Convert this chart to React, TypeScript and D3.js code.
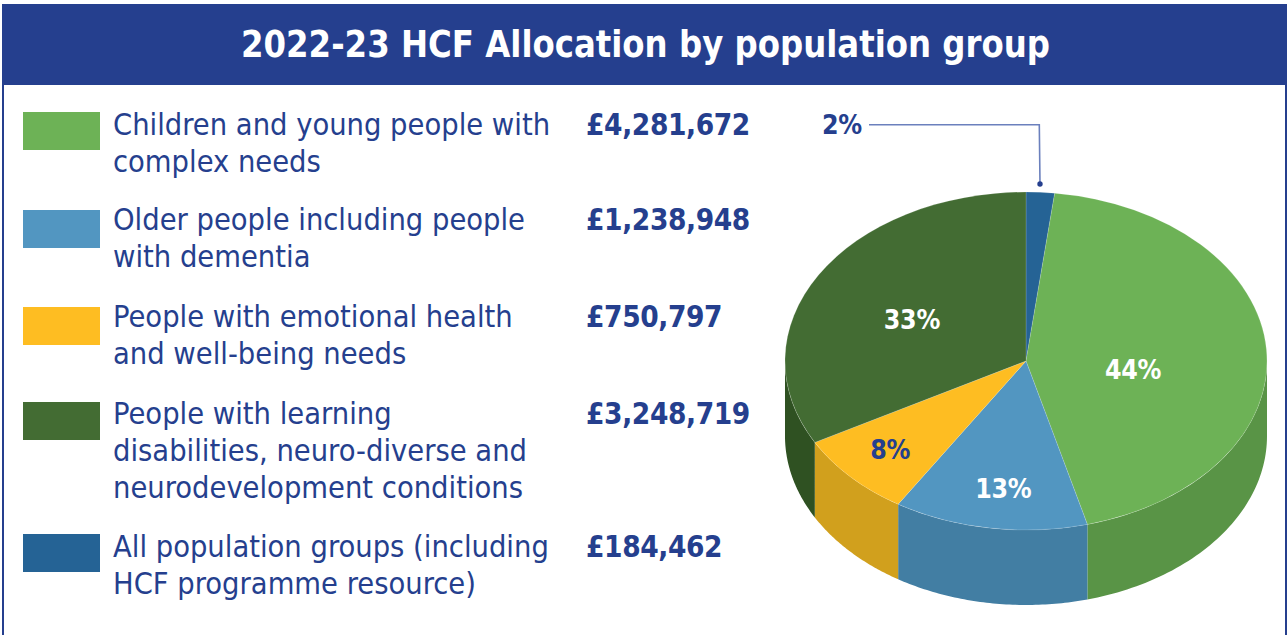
import React from "react";
import * as d3 from "d3";

const title = "2022-23 HCF Allocation by population group";
// Pie order, clockwise from 12 o'clock; shares (%)
const pieKeys = ["all", "children", "older", "emotional", "learning"];
const pieShares = [1.9, 44, 13, 8.1, 33];
const pieColors = ["#256395", "#6db256", "#5296c1", "#febd22", "#436c33"];
const wallColors = ["#1d4d74", "#599446", "#427ea3", "#d1a01d", "#2f5122"];
const labelColors = ["#253f8e", "#ffffff", "#ffffff", "#253f8e", "#ffffff"];

// Legend, in reading order
const legendKeys = ["children", "older", "emotional", "learning", "all"];
const legendLines = [
  ["Children and young people with", "complex needs"],
  ["Older people including people", "with dementia"],
  ["People with emotional health", "and well-being needs"],
  ["People with learning", "disabilities, neuro-diverse and", "neurodevelopment conditions"],
  ["All population groups (including", "HCF programme resource)"],
];
const legendAmounts = [4281672, 1238948, 750797, 3248719, 184462];

const W = 1287;
const H = 635;
const NAVY = "#253f8e";
const FONT = "'DejaVu Sans Condensed', 'DejaVu Sans', sans-serif";
const cx = 1026;
const cy = 361;
const rx = 241;
const ry = 169;
const depth = 75;
const swatchTops = [112, 210, 307, 402, 534];
const textBaselines = [135, 230, 327, 424, 557];
const lineStep = 37;
// Radial position (fraction of radius) and pixel nudges for slice labels
const labelRadius = [0, 0.445, 0.766, 0.77, 0.55];
const labelNudge: [number, number][] = [[0, 0], [0, 14], [5, -1], [-1, -1], [0, 6]];

const gbp = (v: number) => "£" + d3.format(",")(v);
const pct = (v: number) => d3.format(".0f")(v) + "%";

const pieGen = d3.pie<number>().sort(null).startAngle(0).endAngle(2 * Math.PI);
const slices = pieGen(pieShares);
const arcGen = d3.arc<d3.PieArcDatum<number>>().innerRadius(0).outerRadius(rx);

const px = (a: number) => cx + rx * Math.sin(a);
const py = (a: number) => cy - ry * Math.cos(a);

function wallPath(a0: number, a1: number): string | null {
  const s = Math.max(a0, Math.PI / 2);
  const e = Math.min(a1, (3 * Math.PI) / 2);
  if (e <= s) return null;
  const p = d3.path();
  p.moveTo(px(s), py(s));
  const steps = d3.range(0, 61).map((i) => s + ((e - s) * i) / 60);
  steps.forEach((a) => p.lineTo(px(a), py(a)));
  steps.slice().reverse().forEach((a) => p.lineTo(px(a), py(a) + depth));
  p.closePath();
  return p.toString();
}

export default function App() {
  return (
    <svg
      width={W}
      height={H}
      viewBox={`0 0 ${W} ${H}`}
      style={{ position: "absolute", left: 0, top: 0, display: "block", background: "#fff" }}
      fontFamily={FONT}
    >
      <rect x={2} y={4} width={W - 2} height={81} fill={NAVY} />
      <rect x={2} y={85} width={2} height={H - 85} fill={NAVY} />
      <rect x={1285} y={85} width={2} height={H - 85} fill={NAVY} />
      <text
        x={241}
        y={57}
        fill="#fff"
        fontSize={38}
        fontWeight={700}
        textLength={809}
        lengthAdjust="spacingAndGlyphs"
      >
        {title}
      </text>

      {legendKeys.map((k, i) => {
        const color = pieColors[pieKeys.indexOf(k)];
        return (
          <g key={k}>
            <rect x={23} y={swatchTops[i]} width={77} height={38} fill={color} />
            {legendLines[i].map((line, j) => (
              <text key={j} x={113} y={textBaselines[i] + j * lineStep} fill={NAVY} fontSize={30.5}>
                {line}
              </text>
            ))}
            <text
              x={586}
              y={textBaselines[i]}
              fill={NAVY}
              fontSize={29.5}
              letterSpacing={-0.4}
              fontWeight={700}
            >
              {gbp(legendAmounts[i])}
            </text>
          </g>
        );
      })}

      {slices.map((s, i) => {
        const d = wallPath(s.startAngle, s.endAngle);
        return d ? <path key={i} d={d} fill={wallColors[i]} /> : null;
      })}
      <g transform={`translate(${cx},${cy}) scale(1,${ry / rx})`}>
        {slices.map((s, i) => (
          <path
            key={i}
            d={arcGen(s) ?? ""}
            fill={pieColors[i]}
            stroke="#ffffff"
            strokeOpacity={0.3}
            strokeWidth={0.6}
          />
        ))}
      </g>

      {slices.map((s, i) => {
        if (i === 0) return null;
        const mid = (s.startAngle + s.endAngle) / 2;
        const r = labelRadius[i];
        return (
          <text
            key={i}
            x={cx + r * rx * Math.sin(mid) + labelNudge[i][0]}
            y={cy - r * ry * Math.cos(mid) + labelNudge[i][1]}
            dy="0.36em"
            textAnchor="middle"
            fill={labelColors[i]}
            fontSize={26.5}
            letterSpacing={-0.3}
            fontWeight={700}
          >
            {pct(pieShares[i])}
          </text>
        );
      })}

      <text
        x={842}
        y={134}
        textAnchor="middle"
        fill={labelColors[0]}
        fontSize={26.5}
        letterSpacing={-0.3}
        fontWeight={700}
      >
        {pct(pieShares[0])}
      </text>
      <path d="M869,124.7 H1039.3 L1040,184" fill="none" stroke="#6b80bd" strokeWidth={1.6} />
      <circle cx={1040} cy={184} r={2.7} fill={NAVY} />
    </svg>
  );
}
